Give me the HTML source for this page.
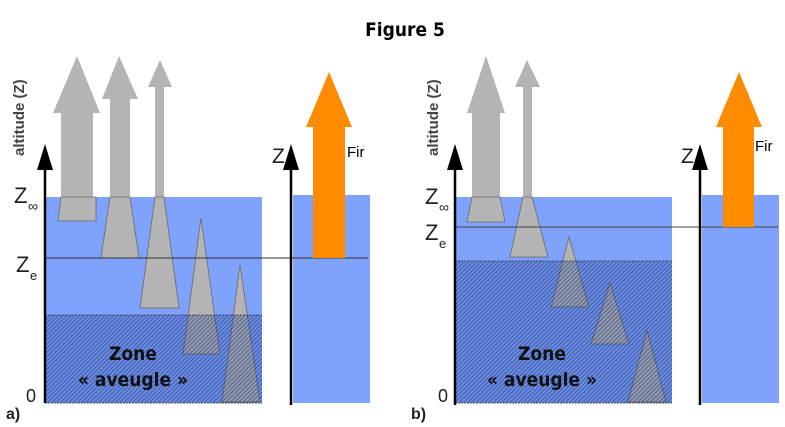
<!DOCTYPE html>
<html><head><meta charset="utf-8"><style>
html,body{margin:0;padding:0;background:#fff;}
svg{display:block;}
text{font-family:"Liberation Sans","DejaVu Sans",sans-serif;}
.zone{font-family:"DejaVu Sans Condensed","Liberation Sans",sans-serif;font-weight:bold;}
</style></head><body>
<svg width="785" height="427" viewBox="0 0 785 427" xmlns="http://www.w3.org/2000/svg">
<defs>
<pattern id="h" width="3" height="3" patternUnits="userSpaceOnUse" patternTransform="rotate(45)">
<rect width="3" height="3" fill="none"/>
<line x1="0" y1="0" x2="0" y2="3" stroke="#142558" stroke-opacity="0.7" stroke-width="1.3"/>
</pattern>
</defs>
<text x="405" y="36" text-anchor="middle" font-size="19" font-weight="bold" style="font-family:'DejaVu Sans Condensed','Liberation Sans',sans-serif">Figure 5</text>

<!-- Panel a -->
<rect x="45" y="197" width="217" height="206" fill="#7fa2fd"/>
<rect x="293" y="195" width="77" height="208" fill="#7fa2fd"/>
<g fill="#b4b4b4" stroke="#6a6a6a" stroke-width="0.8">
<polygon points="77,56 100,113 93,113 93,197 96,221 58,221 61,197 61,113 53,113" stroke="none"/>
<polygon points="61,197 96,197 96,221 58,221" />
<polygon points="119,56 138,99 130,99 130,197 139,258 101,258 110,197 110,99 102,99" stroke="none"/>
<polygon points="110,197 130,197 139,258 101,258"/>
<polygon points="160,60 172,87 164,87 164,197 179,308 140,308 155,197 155,87 148,87" stroke="none"/>
<polygon points="155,197 164,197 179,308 140,308"/>
<polygon points="201,218 220,354 183,354"/>
<polygon points="240,265 260,402 222,402"/>
</g>
<rect x="45" y="315" width="217" height="88" fill="#2a4aa0" fill-opacity="0.25"/>
<rect x="45" y="315" width="217" height="88" fill="url(#h)"/>
<line x1="45" y1="315" x2="262" y2="315" stroke="#333" stroke-width="0.8" stroke-dasharray="2,1"/>
<line x1="45" y1="403" x2="262" y2="403" stroke="#555" stroke-width="1" stroke-dasharray="2,1"/>
<line x1="45" y1="258" x2="368" y2="258" stroke="#333" stroke-width="1"/>
<polygon points="313,258 345,258 345,127 352,127 329,72 306,127 313,127" fill="#ff8c00"/>
<line x1="45" y1="403" x2="45" y2="165" stroke="#000" stroke-width="2.5"/>
<polygon points="45,144 53,170 37,170" fill="#000"/>
<line x1="291" y1="405" x2="291" y2="165" stroke="#000" stroke-width="2.5"/>
<polygon points="291,144 299,170 283,170" fill="#000"/>
<text x="272" y="163" font-size="21" fill="#222">Z</text>
<text x="347" y="157" font-size="15" fill="#000">Fir</text>
<text x="14" y="203" font-size="22" fill="#222">Z</text><text x="28" y="211" font-size="14" fill="#222">∞</text>
<text x="16" y="272" font-size="22" fill="#222">Z</text><text x="30" y="280" font-size="13" fill="#222">e</text>
<text x="26" y="402" font-size="18" fill="#222">0</text>
<text x="6" y="419" font-size="16" font-weight="bold" fill="#222">a)</text>
<text transform="translate(24,156) rotate(-90)" font-size="15" fill="#444" font-weight="bold">altitude (Z)</text>
<text class="zone" x="133" y="360" text-anchor="middle" font-size="19" fill="#111">Zone</text>
<text class="zone" x="133" y="386" text-anchor="middle" font-size="19" fill="#111">« aveugle »</text>

<!-- Panel b -->
<rect x="455" y="197" width="217" height="206" fill="#7fa2fd"/>
<rect x="702" y="195" width="77" height="208" fill="#7fa2fd"/>
<g fill="#b4b4b4" stroke="#6a6a6a" stroke-width="0.8">
<polygon points="486,56 505,113 500,113 500,197 505,222 467,222 472,197 472,113 467,113" stroke="none"/>
<polygon points="472,197 500,197 505,222 467,222"/>
<polygon points="527,60 540,87 532,87 532,197 548,257 510,257 523,197 523,87 515,87" stroke="none"/>
<polygon points="523,197 532,197 548,257 510,257"/>
<polygon points="569,237 589,307 551,307"/>
<polygon points="610,283 629,344 591,344"/>
<polygon points="647,330 666,402 628,402"/>
</g>
<rect x="455" y="261" width="217" height="142" fill="#2a4aa0" fill-opacity="0.25"/>
<rect x="455" y="261" width="217" height="142" fill="url(#h)"/>
<line x1="455" y1="261" x2="672" y2="261" stroke="#333" stroke-width="0.8" stroke-dasharray="2,1"/>
<line x1="455" y1="403" x2="672" y2="403" stroke="#555" stroke-width="1" stroke-dasharray="2,1"/>
<line x1="455" y1="227" x2="778" y2="227" stroke="#444" stroke-width="1"/>
<polygon points="723,227 754,227 754,127 762,127 739,72 716,127 723,127" fill="#ff8c00"/>
<line x1="455" y1="405" x2="455" y2="165" stroke="#000" stroke-width="2.5"/>
<polygon points="455,144 463,170 447,170" fill="#000"/>
<line x1="700" y1="405" x2="700" y2="165" stroke="#000" stroke-width="2.5"/>
<polygon points="700,144 708,170 692,170" fill="#000"/>
<text x="681" y="163" font-size="21" fill="#222">Z</text>
<text x="755" y="151" font-size="15" fill="#000">Fir</text>
<text x="425" y="204" font-size="22" fill="#222">Z</text><text x="439" y="212" font-size="14" fill="#222">∞</text>
<text x="425" y="240" font-size="22" fill="#222">Z</text><text x="439" y="248" font-size="13" fill="#222">e</text>
<text x="438" y="402" font-size="18" fill="#222">0</text>
<text x="411" y="419" font-size="16" font-weight="bold" fill="#222">b)</text>
<text transform="translate(438,156) rotate(-90)" font-size="15" fill="#444" font-weight="bold">altitude (Z)</text>
<text class="zone" x="542" y="360" text-anchor="middle" font-size="19" fill="#111">Zone</text>
<text class="zone" x="542" y="386" text-anchor="middle" font-size="19" fill="#111">« aveugle »</text>
</svg>
</body></html>
